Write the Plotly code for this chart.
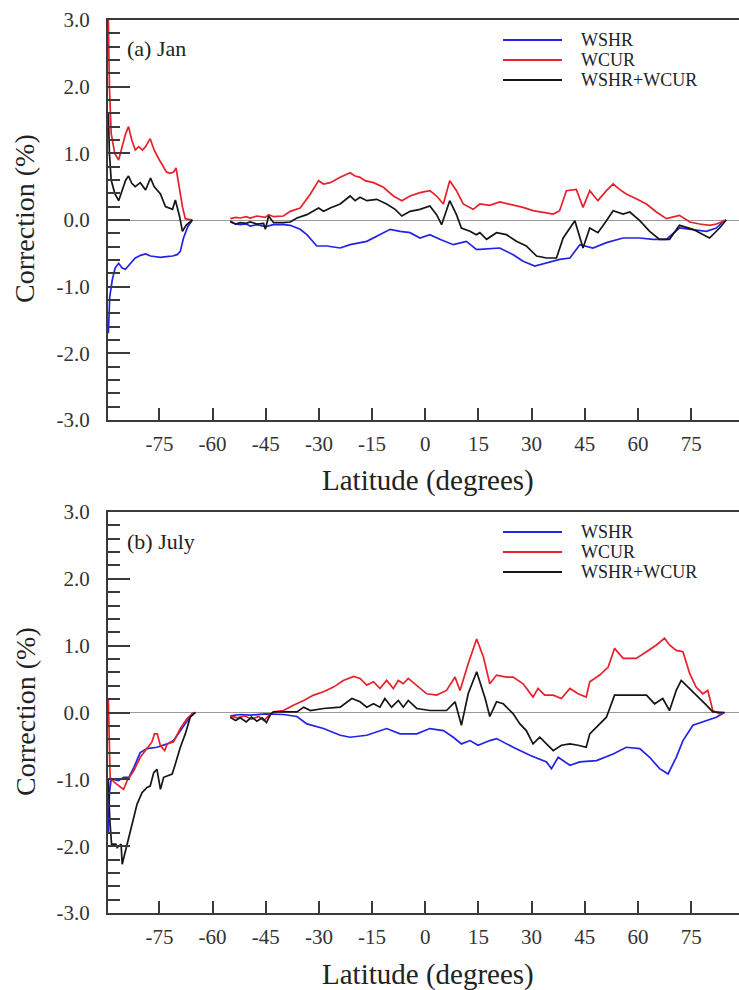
import plotly.graph_objects as go

# ---------------- data: (a) January ----------------
jan_wshr_lat = [-89.4, -89.0, -88.3, -87.5, -86.5, -85.5, -84.6, -83.2, -81.8, -80.3, -78.9, -77.5, -76.0,
                -74.7, -73.0, -71.3, -70.0, -69.1, -68.2, -67.0, -65.7, None,
                -55.0, -53.5, -52.2, -50.5, -49.4, -47.5, -45.1, -42.8, -40.0, -38.1, -35.3, -33.4, -30.6,
                -27.8, -24.0, -21.2, -16.5, -12.8, -9.9, -7.1, -4.3, -1.5, 1.3, 4.1, 7.9, 11.6, 14.4,
                15.4, 21.0, 24.8, 27.6, 30.9, 34.2, 37.9, 40.8, 43.6, 47.3, 51.1, 55.8, 60.5, 64.2, 68.0,
                71.7, 75.5, 79.3, 82.1, 84.4]
jan_wshr = [-1.7, -1.15, -0.9, -0.72, -0.65, -0.72, -0.74, -0.65, -0.57, -0.53, -0.51, -0.54, -0.55,
            -0.56, -0.55, -0.54, -0.52, -0.47, -0.27, -0.1, 0.0, None,
            -0.03, -0.06, -0.07, -0.06, -0.09, -0.07, -0.1, -0.07, -0.07, -0.08, -0.14, -0.22, -0.39,
            -0.39, -0.42, -0.37, -0.32, -0.22, -0.14, -0.17, -0.19, -0.27, -0.22, -0.29, -0.37, -0.32, -0.44,
            -0.44, -0.42, -0.52, -0.62, -0.69, -0.64, -0.59, -0.57, -0.37, -0.42, -0.34, -0.27, -0.27, -0.29, -0.29,
            -0.12, -0.14, -0.17, -0.12, 0.0]

jan_wcur_lat = [-89.4, -89.1, -88.6, -87.6, -86.5, -85.5, -84.5, -83.7, -82.8, -81.8, -80.8, -79.8, -78.9,
                -77.6, -76.5, -75.0, -74.0, -73.0, -72.0, -71.0, -70.3, -69.5, -68.5, -67.7, -65.7, None,
                -55.0, -53.5, -52.2, -50.5, -49.4, -47.5, -45.1, -44.2, -42.8, -40.0, -38.1, -35.3, -32.4,
                -30.1, -28.7, -26.8, -24.0, -21.2, -19.8, -18.4, -17.0, -14.6, -11.8, -9.0, -6.6, -4.3, -1.5,
                1.3, 3.2, 5.1, 6.9, 8.8, 10.7, 13.5,
                15.4, 18.2, 21.0, 24.8, 27.6, 30.4, 33.2, 36.1, 37.9, 39.8, 42.6, 44.5, 46.4, 48.7, 51.1,
                53.0, 54.8, 56.7, 59.5, 62.4, 65.2, 68.0, 71.7, 74.6, 77.4, 80.2, 82.1, 84.9]
jan_wcur = [3.0, 2.0, 1.3, 1.0, 0.9, 1.1, 1.3, 1.4, 1.2, 1.05, 1.1, 1.05, 1.1,
            1.22, 1.05, 0.9, 0.8, 0.72, 0.7, 0.72, 0.78, 0.5, 0.2, 0.02, 0.0, None,
            0.02, 0.04, 0.03, 0.05, 0.03, 0.06, 0.04, 0.08, 0.05, 0.06, 0.13, 0.18, 0.39,
            0.59, 0.54, 0.56, 0.64, 0.71, 0.66, 0.64, 0.59, 0.56, 0.49, 0.36, 0.29, 0.36, 0.41,
            0.44, 0.36, 0.24, 0.59, 0.44, 0.24, 0.16,
            0.24, 0.22, 0.27, 0.22, 0.19, 0.14, 0.12, 0.09, 0.14, 0.44, 0.46, 0.19, 0.44, 0.29, 0.44,
            0.54, 0.46, 0.39, 0.32, 0.24, 0.12, 0.02, 0.07, -0.03, -0.06, -0.08, -0.06, 0.0]

jan_sum_lat = [-89.4, -89.1, -88.6, -87.6, -86.5, -85.5, -84.5, -83.7, -82.8, -81.8, -80.4, -78.9, -77.5,
               -76.5, -74.7, -73.3, -71.3, -70.5, -69.3, -68.5, -67.5, -65.7, None,
               -55.0, -53.5, -52.2, -50.5, -49.4, -47.5, -45.6, -45.1, -44.2, -42.8, -40.0, -38.1, -36.2,
               -33.4, -30.1, -28.7, -26.8, -24.0, -21.2, -19.8, -18.4, -16.5, -13.7, -10.9, -8.5, -6.6,
               -4.3, -1.5, 1.3, 3.2, 4.6, 6.9, 8.8, 10.2, 12.6, 14.4,
               15.4, 17.3, 20.1, 22.9, 25.7, 28.5, 31.4, 34.2, 37.0, 38.9, 42.2, 44.5, 46.4, 48.7, 51.1,
               53.0, 55.8, 57.7, 60.5, 63.3, 66.1, 68.9, 71.7, 75.5, 80.2, 83.0, 84.9]
jan_sum = [1.6, 1.0, 0.6, 0.4, 0.29, 0.45, 0.6, 0.66, 0.55, 0.5, 0.56, 0.45, 0.63,
           0.5, 0.39, 0.2, 0.16, 0.3, 0.05, -0.17, -0.08, 0.0, None,
           -0.02, -0.06, -0.04, -0.05, -0.03, -0.06, -0.05, -0.14, 0.06, -0.04, -0.04, -0.03, 0.03,
           0.08, 0.18, 0.13, 0.18, 0.24, 0.36, 0.29, 0.34, 0.29, 0.31, 0.24, 0.16, 0.06,
           0.13, 0.16, 0.21, 0.08, -0.07, 0.29, 0.08, -0.12, -0.17, -0.22,
           -0.19, -0.29, -0.19, -0.22, -0.32, -0.39, -0.54, -0.57, -0.57, -0.27, -0.01, -0.42, -0.12, -0.19, -0.01,
           0.14, 0.09, 0.12, -0.01, -0.17, -0.29, -0.29, -0.08, -0.14, -0.27, -0.12, 0.0]

# ---------------- data: (b) July ----------------
jul_wshr_lat = [-89.4, -89.1, -88.6, -87.9, -86.5, -85.1, -83.6, -82.2, -80.4, -78.5, -75.7, -72.8, -71.0,
                -69.1, -67.2, -65.8, -65.0, None,
                -55.0, -52.2, -49.4, -45.1, -40.0, -36.2, -33.4, -28.7, -24.0, -21.2, -16.5, -10.9, -7.1,
                -2.4, 1.3, 5.1, 7.9, 10.2, 12.6, 14.9,
                18.2, 20.1, 24.8, 29.5, 34.2, 35.6, 37.5, 40.8, 43.6, 48.3, 53.0, 56.7, 60.5, 63.3, 66.1,
                68.5, 70.8, 72.7, 75.5, 79.3, 82.1, 84.4]
jul_wshr = [-1.8, -1.2, -1.0, -1.0, -1.02, -0.97, -0.97, -0.82, -0.6, -0.54, -0.52, -0.47, -0.42,
            -0.27, -0.12, -0.02, 0.0, None,
            -0.05, -0.03, -0.04, -0.02, -0.03, -0.06, -0.17, -0.24, -0.34, -0.37, -0.34, -0.24, -0.32,
            -0.32, -0.24, -0.27, -0.37, -0.47, -0.42, -0.49,
            -0.42, -0.39, -0.52, -0.64, -0.74, -0.84, -0.67, -0.79, -0.74, -0.72, -0.62, -0.52, -0.54, -0.67, -0.84,
            -0.92, -0.67, -0.42, -0.19, -0.12, -0.07, 0.0]

jul_wcur_lat = [-89.4, -89.2, -88.9, -87.6, -86.5, -85.1, -84.1, -82.2, -80.4, -78.5, -77.1, -76.4, -75.6,
                -74.7, -73.5, -72.8, -71.0, -69.1, -67.2, -65.8, -65.0, None,
                -55.0, -53.0, -51.0, -49.0, -47.0, -45.5, -44.0, -42.8, -40.0, -37.2, -34.3, -31.5, -28.7,
                -25.9, -23.1, -20.2, -18.4, -16.5, -14.6, -12.8, -10.9, -9.0, -7.6, -6.2, -4.8, -2.4, 0.4,
                3.2, 6.0, 8.4, 9.8, 12.1, 14.5, 16.4,
                18.2, 20.1, 22.9, 24.8, 27.6, 30.4, 31.8, 33.7, 36.1, 38.4, 40.8, 43.1, 45.4, 46.4, 49.2,
                51.6, 53.4, 55.8, 59.5, 62.4, 65.2, 67.5, 68.9, 70.8, 72.7, 74.6, 76.4, 78.3, 79.7, 81.1,
                83.0, 84.4]
jul_wcur = [0.2, -0.5, -0.97, -1.05, -1.1, -1.15, -1.02, -0.87, -0.67, -0.54, -0.44, -0.32, -0.32,
            -0.5, -0.57, -0.47, -0.44, -0.24, -0.09, -0.02, 0.0, None,
            -0.05, -0.08, -0.05, -0.1, -0.06, -0.12, -0.04, 0.01, 0.03, 0.11, 0.18, 0.26, 0.31,
            0.38, 0.48, 0.54, 0.51, 0.41, 0.46, 0.36, 0.48, 0.36, 0.48, 0.43, 0.51, 0.41, 0.28,
            0.26, 0.33, 0.53, 0.33, 0.73, 1.1, 0.83,
            0.43, 0.56, 0.53, 0.53, 0.43, 0.23, 0.36, 0.26, 0.26, 0.21, 0.36, 0.28, 0.23, 0.46, 0.56,
            0.68, 0.96, 0.81, 0.81, 0.91, 1.01, 1.11, 1.01, 0.93, 0.91, 0.58, 0.38, 0.28, 0.33, 0.03,
            -0.02, 0.0]

jul_sum_lat = [-89.4, -89.0, -88.5, -87.3, -86.9, -85.8, -85.5, -84.1, -82.2, -81.3, -79.9, -78.5, -77.6,
               -76.6, -75.7, -74.7, -73.8, -72.8, -71.4, -70.5, -69.1, -67.7, -66.3, -65.3, -64.8, None,
               -55.0, -53.5, -52.2, -50.5, -49.0, -47.5, -46.0, -44.8, -43.7, -42.8, -36.2, -34.3, -32.4,
               -28.7, -24.0, -20.7, -18.4, -16.5, -14.6, -12.8, -11.4, -9.5, -7.6, -6.2, -4.8, -2.4, 1.3,
               6.0, 8.4, 10.2, 12.1, 14.5, 16.9,
               18.2, 20.1, 22.0, 24.8, 26.7, 28.5, 30.4, 32.3, 34.2, 36.1, 38.4, 40.8, 43.1, 45.4, 46.4,
               48.3, 51.1, 53.4, 57.7, 62.4, 64.7, 67.0, 68.9, 70.8, 72.2, 74.6, 77.4, 79.3, 81.1, 84.4]
jul_sum = [-1.0, -1.6, -1.97, -1.97, -2.02, -1.97, -2.27, -1.97, -1.57, -1.37, -1.2, -1.12, -1.1,
           -0.9, -0.85, -1.15, -0.97, -0.95, -0.92, -0.77, -0.52, -0.32, -0.07, -0.02, 0.0, None,
           -0.07, -0.12, -0.08, -0.14, -0.07, -0.13, -0.08, -0.15, -0.03, 0.01, 0.01, 0.08, 0.03,
           0.06, 0.08, 0.21, 0.16, 0.08, 0.13, 0.08, 0.21, 0.08, 0.18, 0.08, 0.18, 0.06, 0.03,
           0.03, 0.16, -0.19, 0.28, 0.61, 0.21,
           -0.06, 0.16, 0.13, -0.02, -0.17, -0.27, -0.47, -0.37, -0.47, -0.57, -0.49, -0.47, -0.49, -0.52, -0.32,
           -0.22, -0.07, 0.26, 0.26, 0.26, 0.13, 0.21, 0.03, 0.33, 0.48, 0.36, 0.21, 0.11, 0.01, 0.0]

series_names = ["WSHR", "WCUR", "WSHR+WCUR"]
series_colors = ["#2323e6", "#e8202a", "#151515"]
panel_labels = ["(a) Jan", "(b) July"]
x_ticks = [-75, -60, -45, -30, -15, 0, 15, 30, 45, 60, 75]
x_tick_text = ["-75", "-60", "-45", "-30", "-15", "0", "15", "30", "45", "60", "75"]
y_ticks = [-3.0, -2.0, -1.0, 0.0, 1.0, 2.0, 3.0]
y_tick_text = ["-3.0", "-2.0", "-1.0", "0.0", "1.0", "2.0", "3.0"]
x_title = "Latitude (degrees)"
y_title = "Correction (%)"

W, H = 739, 990
SERIF = "Liberation Serif, Times New Roman, serif"


def py(p):
    return 1 - p / H


def px(p):
    return p / W


fig = go.Figure()
panels = [
    ("x", "y", [jan_wshr_lat, jan_wcur_lat, jan_sum_lat], [jan_wshr, jan_wcur, jan_sum]),
    ("x2", "y2", [jul_wshr_lat, jul_wcur_lat, jul_sum_lat], [jul_wshr, jul_wcur, jul_sum]),
]
for xa, ya, lats, vals in panels:
    for name, color, la, va in zip(series_names, series_colors, lats, vals):
        fig.add_trace(go.Scatter(x=la, y=va, mode="lines", name=name, xaxis=xa, yaxis=ya,
                                 line=dict(color=color, width=1.7), showlegend=False,
                                 connectgaps=False))

x_dom = [px(108), 1.0]
y_doms = [[py(420), py(20)], [py(913), py(512)]]

common_x = dict(range=[-89.5, 88.5], showgrid=False, zeroline=False, showline=True,
                linecolor="#3a3a3a", linewidth=2, mirror=True, ticks="inside", ticklen=12,
                tickwidth=2, tickcolor="#3a3a3a", tickvals=x_ticks, ticktext=x_tick_text,
                tickfont=dict(family=SERIF, size=21, color="#333"), domain=x_dom,
                ticklabelstandoff=4)
common_y = dict(range=[-3, 3], showgrid=False, zeroline=True, zerolinecolor="#9a9a9a",
                zerolinewidth=1, showline=True, linecolor="#3a3a3a", linewidth=2,
                ticks="inside", ticklen=22, tickwidth=2, tickcolor="#3a3a3a",
                tickvals=y_ticks, ticktext=y_tick_text,
                tickfont=dict(family=SERIF, size=21, color="#333"),
                minor=dict(ticks="inside", ticklen=12, tickwidth=1.5, tickcolor="#3a3a3a", dtick=0.2,
                           showgrid=False),
                ticklabelstandoff=12)

fig.update_layout(
    width=W, height=H, margin=dict(l=0, r=0, t=0, b=0, autoexpand=False),
    paper_bgcolor="white", plot_bgcolor="white", showlegend=False,
    xaxis=dict(common_x, anchor="y"),
    yaxis=dict(common_y, domain=y_doms[0], anchor="x"),
    xaxis2=dict(common_x, anchor="y2"),
    yaxis2=dict(common_y, domain=y_doms[1], anchor="x2"),
)

annotations = []
shapes = []
for i, (top, x_title_y, zero_y) in enumerate([(20, 480, 219), (512, 974, 712)]):
    annotations.append(dict(text=x_title, x=px(428), y=py(x_title_y), xref="paper", yref="paper",
                            showarrow=False, xanchor="center", yanchor="middle",
                            font=dict(family=SERIF, size=29, color="#222")))
    annotations.append(dict(text=y_title, x=px(25), y=py(zero_y), xref="paper", yref="paper",
                            showarrow=False, xanchor="center", yanchor="middle", textangle=-90,
                            font=dict(family=SERIF, size=28, color="#222")))
    annotations.append(dict(text=panel_labels[i], x=px(125), y=py(top + 29), xref="paper", yref="paper",
                            showarrow=False, xanchor="left", yanchor="middle",
                            font=dict(family=SERIF, size=22, color="#222")))
    for k, (name, color) in enumerate(zip(series_names, series_colors)):
        yy = top + 20 + 20 * k
        shapes.append(dict(type="line", xref="paper", yref="paper", x0=px(503), x1=px(562),
                           y0=py(yy), y1=py(yy), line=dict(color=color, width=2.2)))
        annotations.append(dict(text=name, x=px(579), y=py(yy), xref="paper", yref="paper",
                                showarrow=False, xanchor="left", yanchor="middle",
                                font=dict(family=SERIF, size=18, color="#222")))

fig.update_layout(annotations=annotations, shapes=shapes)
fig.write_html("out.html")
